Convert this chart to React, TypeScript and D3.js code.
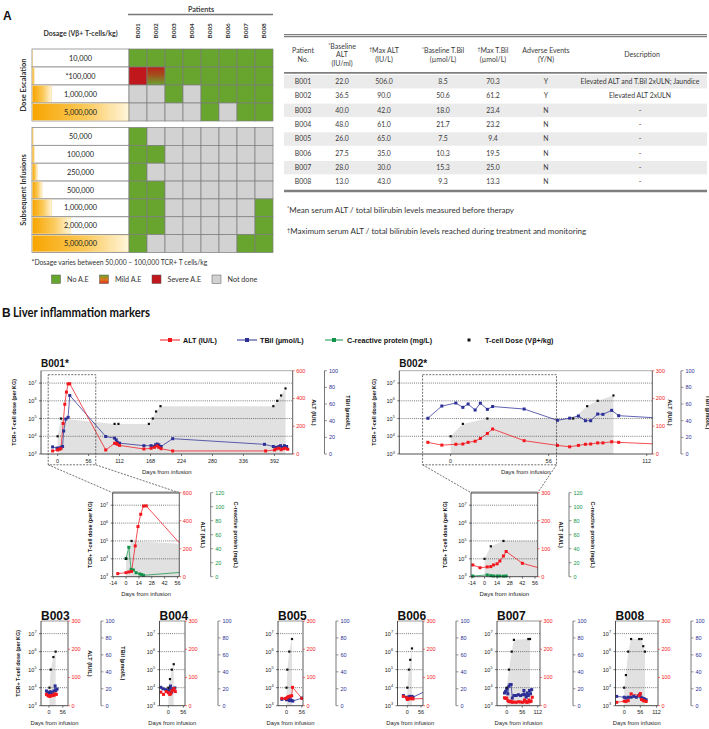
import React from "react";
import * as d3 from "d3";

type Pt = [number, number];

const FONT = "'Liberation Sans', Arial, Helvetica, sans-serif";
const FONT_A = "Lato, 'Open Sans', 'Liberation Sans', sans-serif";
const RED = "#f2161d";
const BLUE = "#2c2f96";
const GREEN = "#13934a";
const AE_GREEN = "#67a52f";
const AE_RED = "#c0171c";
const AE_GRAY = "#d2d2d2";

// ---------------- Panel A data ----------------
const patients = ["B001", "B002", "B003", "B004", "B005", "B006", "B007", "B008"];
const escalationLabels = ["10,000", "*100,000", "1,000,000", "5,000,000"];
const escalationDoses = [10000, 100000, 1000000, 5000000];
// N = no A.E, M = mild, S = severe, X = not done
const escalationStatus = ["NNNNNNNN", "SMNNNNNN", "XXNXNNNN", "XXXXNXNN"];
const subsequentLabels = ["50,000", "100,000", "250,000", "500,000", "1,000,000", "2,000,000", "5,000,000"];
const subsequentDoses = [50000, 100000, 250000, 500000, 1000000, 2000000, 5000000];
const subsequentStatus = ["NXXXXXXX", "NNXXXXXX", "NXXXXXXX", "NNXXXXXX", "NNXXXXXN", "NNXXXXXN", "NXXXXXNN"];
const aeLegendCodes = ["N", "M", "S", "X"];
const aeLegendLabels = ["No A.E", "Mild A.E", "Severe A.E", "Not done"];

// ---------------- Table data ----------------
const tableHeaders = [
  ["Patient", "No."],
  ["*Baseline", "ALT", "(IU/ml)"],
  ["†Max ALT", "(IU/L)"],
  ["*Baseline T.Bil", "(µmol/L)"],
  ["†Max T.Bil", "(µmol/L)"],
  ["Adverse Events", "(Y/N)"],
  ["Description"],
];
const baselineALT = ["22.0", "36.5", "40.0", "48.0", "26.0", "27.5", "28.0", "13.0"];
const maxALT = ["506.0", "90.0", "42.0", "61.0", "65.0", "35.0", "30.0", "43.0"];
const baselineTBil = ["8.5", "50.6", "18.0", "21.7", "7.5", "10.3", "15.3", "9.3"];
const maxTBil = ["70.3", "61.2", "23.4", "23.2", "9.4", "19.5", "25.0", "13.3"];
const adverseEvents = ["Y", "Y", "N", "N", "N", "N", "N", "N"];
const descriptions = ["Elevated ALT and T.Bil 2xULN; Jaundice", "Elevated ALT 2xULN", "-", "-", "-", "-", "-", "-"];
const tableNotes = [
  "*Mean serum ALT / total bilirubin levels measured before therapy",
  "†Maximum serum ALT / total bilirubin levels reached during treatment and monitoring",
];

// ---------------- Panel B data: [day, value] ----------------
const b001Dose: Pt[] = [[0, 1e4], [6, 1e5], [103, 5e4], [110, 5e4], [165, 5e4], [172, 1e5], [178, 2.5e5], [186, 5e5], [390, 5e5], [397, 1e6], [404, 2e6], [412, 5e6]];
const b001ALT: Pt[] = [[-9, 22], [0, 29], [3, 34], [6, 38], [10, 220], [13, 358], [16, 446], [19, 505], [22, 506], [87, 29], [103, 77], [106, 77], [108, 70], [112, 62], [156, 36], [169, 41], [175, 48], [180, 58], [183, 48], [187, 38], [208, 22], [376, 22], [392, 29], [395, 36], [400, 41], [404, 31], [408, 38], [412, 41], [416, 34]];
const b001TBil: Pt[] = [[-9, 8.5], [-1, 7], [2, 7], [6, 8], [9, 9], [11, 27.6], [15, 42], [19, 44], [22, 70.3], [87, 21], [103, 19], [106, 17], [108, 14], [112, 13], [156, 10], [169, 10], [174, 9], [177, 11], [180, 12], [183, 11], [187, 9], [208, 18.4], [374, 11.6], [390, 9], [395, 8], [400, 9], [403, 10], [406, 8], [410, 10], [414, 9]];
const b001CRP: Pt[] = [[0, 26], [3, 42], [5.5, 10.5], [8, 9.6], [11, 5.7], [15, 3.9], [17, 2.9], [19, 2], [87, 9]];

const b002Dose: Pt[] = [[0, 1e4], [7, 5e4], [21, 1e5], [70, 1e5], [78, 5e5], [84, 1e6], [93, 2e6]];
const b002ALT: Pt[] = [[-13, 42], [-5, 32], [3, 35], [7, 36], [10, 42], [14, 46], [17, 56], [21, 74], [24, 90], [42, 48], [61, 31], [68, 26], [73, 31], [77, 35], [80, 36], [84, 40], [87, 40], [92, 44], [96, 42], [125, 34]];
const b002TBil: Pt[] = [[-13, 42.9], [-5, 57.6], [3, 61.2], [7, 56], [10, 60], [14, 52.8], [17, 61], [21, 53.6], [24, 57], [42, 54], [61, 40.4], [68, 43], [73, 45.6], [77, 40], [80, 40], [84, 48], [87, 47.6], [92, 52.4], [96, 46], [125, 42.5]];
const b002CRP: Pt[] = [[-13, 1], [3, 2.5], [7, 1.5], [10, 1], [14, 1], [17, 1], [21, 0.8], [24, 1]];

const b003Dose: Pt[] = [[2, 1e4], [7, 1e5], [18, 5e5], [27, 1e6]];
const b003ALT: Pt[] = [[-10, 40], [-4, 36], [0, 34], [4, 33], [8, 35], [12, 36], [17, 38], [21, 37], [25, 42], [30, 40]];
const b003TBil: Pt[] = [[-10, 17.4], [-5, 15.7], [0, 13.8], [5, 16.5], [10, 15.7], [15, 13], [20, 17.4], [25, 23.4], [28, 18], [33, 19.7]];

const b004Dose: Pt[] = [[0, 1e4], [6, 3e4], [13, 1e5], [20, 2e5]];
const b004ALT: Pt[] = [[-28, 48], [-18, 40], [-8, 50], [0, 46], [5, 40], [9, 42], [13, 52], [17, 55], [21, 61], [26, 50]];
const b004TBil: Pt[] = [[-28, 21.7], [-20, 20], [-10, 19], [0, 18], [4, 20], [8, 23.2], [12, 16], [16, 20], [20, 19], [24, 21]];

const b005Dose: Pt[] = [[0, 1e4], [3, 1e5], [10, 1e6], [20, 5e6]];
const b005ALT: Pt[] = [[-17, 26], [-4, 25], [0, 27], [4, 30], [8, 32], [11, 33], [15, 34], [19, 35], [22, 65], [56, 26]];
const b005TBil: Pt[] = [[-17, 7.5], [-4, 8.5], [0, 7], [4, 9.4], [8, 8], [11, 6], [15, 7], [19, 6], [23, 5.5], [56, 9]];

const b006Dose: Pt[] = [[0, 1e4], [6, 1e5], [12, 3.5e5], [19, 1.5e6]];
const b006ALT: Pt[] = [[-16, 33], [-3, 28], [0, 22], [5, 24], [10, 26], [14, 25], [19, 27], [23, 24], [90, 26]];
const b006TBil: Pt[] = [[-16, 12], [-3, 10], [0, 9], [5, 10], [10, 11], [14, 10], [19, 11], [23, 10], [90, 19.5]];

const b007Dose: Pt[] = [[0, 1e4], [8, 1e5], [18, 1e6], [26, 4.5e6], [78, 5e6], [84, 5e6]];
const b007ALT: Pt[] = [[-8, 28], [-4, 26], [0, 27], [4, 18], [8, 15], [12, 14], [16, 16], [20, 12], [26, 13], [34, 12], [42, 14], [50, 13], [58, 12], [64, 20], [68, 15], [72, 12], [76, 13], [80, 20], [84, 14], [88, 16], [92, 30]];
const b007TBil: Pt[] = [[-8, 15], [-4, 17], [0, 20], [4, 14], [8, 23], [12, 25], [16, 25], [20, 9], [26, 12], [34, 12], [42, 13], [50, 12], [58, 13], [62, 18], [66, 13], [70, 10], [74, 15], [78, 12], [82, 18], [86, 14], [90, 19]];

const b008Dose: Pt[] = [[0, 1e4], [6, 5e4], [14, 1e6], [24, 5e6], [52, 5e6], [60, 5e6], [66, 2e6], [72, 1e6]];
const b008ALT: Pt[] = [[-26, 12], [0, 16], [6, 15], [14, 18], [24, 42], [52, 36], [56, 43], [60, 22], [66, 18], [70, 17], [76, 15]];
const b008TBil: Pt[] = [[-26, 11], [0, 10], [6, 9], [14, 10], [24, 10], [33, 11], [42, 10], [50, 11.5], [54, 13.3], [58, 10], [62, 9], [66, 8.5], [70, 8], [76, 7]];

const Y_DOMAIN: [number, number] = [1e3, 5e7];
const DECADES = [1e3, 1e4, 1e5, 1e6, 1e7];
const TBIL_TICKS = [0, 20, 40, 60, 80, 100];
const CRP_TICKS = [0, 20, 40, 60, 80, 100, 120];

interface PlotProps {
  id: string;
  left: number; top: number; width: number; height: number;
  xDomain: [number, number]; xTicks: number[];
  altMax: number; altTicks: number[];
  thirdKind: "tbil" | "crp"; thirdX: number;
  dose: Pt[]; alt: Pt[]; third: Pt[];
  title?: string; titleSize?: number; titleY?: number;
  leftLabelX?: number; altLabelX?: number; thirdLabelX?: number;
  xLabelY: number; xLabelSize?: number;
  topStroke?: number;
}

function LogLabel({ x, y, v }: { x: number; y: number; v: number }) {
  const e = Math.round(Math.log10(v));
  return (
    <text x={x} y={y} textAnchor="end" fontSize={5.5} fill="#222">
      10<tspan fontSize={3.8} dy={-2.4}>{e}</tspan>
    </text>
  );
}

function Plot(p: PlotProps) {
  const { left, top, width, height } = p;
  const right = left + width, bottom = top + height;
  const x = d3.scaleLinear().domain(p.xDomain).range([left, right]);
  const y = d3.scaleLog().domain(Y_DOMAIN).range([bottom, top]);
  const yA = d3.scaleLinear().domain([0, p.altMax]).range([bottom, top]);
  const thirdMax = p.thirdKind === "tbil" ? 100 : 120;
  const thirdTicks = p.thirdKind === "tbil" ? TBIL_TICKS : CRP_TICKS;
  const y3 = d3.scaleLinear().domain([0, thirdMax]).range([bottom, top]);
  const area = d3.area<Pt>().x(d => x(d[0])).y0(bottom).y1(d => y(d[1]))(p.dose) || "";
  const lA = d3.line<Pt>().x(d => x(d[0])).y(d => yA(d[1]))(p.alt) || "";
  const l3 = d3.line<Pt>().x(d => x(d[0])).y(d => y3(d[1]))(p.third) || "";
  const c3 = p.thirdKind === "tbil" ? BLUE : GREEN;
  const cid = "clip-" + p.id;
  const ms = 3;
  const midY = (top + bottom) / 2;
  return (
    <g>
      <defs>
        <clipPath id={cid}>
          <rect x={left} y={top - 3} width={width} height={height + 6} />
        </clipPath>
        <clipPath id={cid + "a"}>
          <rect x={left} y={top} width={width} height={height} />
        </clipPath>
      </defs>
      <path d={area} fill="#e1e1e1" clipPath={`url(#${cid}a)`} />
      {[1e4, 1e5, 1e6, 1e7].map(v => (
        <line key={v} x1={left} x2={right} y1={y(v)} y2={y(v)} stroke="#222" strokeWidth={0.6} strokeDasharray="1,1.1" />
      ))}
      <g clipPath={`url(#${cid})`}>
        <path d={l3} fill="none" stroke={c3} strokeWidth={0.75} />
        <path d={lA} fill="none" stroke={RED} strokeWidth={0.75} />
        {p.third.map((d, i) => (
          <rect key={"t" + i} x={x(d[0]) - ms / 2} y={y3(d[1]) - ms / 2} width={ms} height={ms} fill={c3} />
        ))}
        {p.alt.map((d, i) => (
          <rect key={"a" + i} x={x(d[0]) - ms / 2} y={yA(d[1]) - ms / 2} width={ms} height={ms} fill={RED} />
        ))}
        {p.dose.map((d, i) => (
          <rect key={"d" + i} x={x(d[0]) - 1.1} y={y(d[1]) - 1.1} width={2.2} height={2.2} fill="#111" />
        ))}
      </g>
      <line x1={left} x2={right} y1={top} y2={top} stroke="#8a8a8a" strokeWidth={p.topStroke ?? 0.7} />
      <line x1={left} x2={left} y1={top} y2={bottom} stroke="#222" strokeWidth={0.8} />
      <line x1={left} x2={right} y1={bottom} y2={bottom} stroke="#222" strokeWidth={0.8} />
      <line x1={right} x2={right} y1={top} y2={bottom} stroke="#333" strokeWidth={0.8} />
      {DECADES.map(v => (
        <g key={v}>
          <line x1={left - 2} x2={left} y1={y(v)} y2={y(v)} stroke="#222" strokeWidth={0.6} />
          <LogLabel x={left - 4.5} y={y(v) + 2} v={v} />
        </g>
      ))}
      {p.xTicks.map(t => (
        <g key={t}>
          <line x1={x(t)} x2={x(t)} y1={bottom} y2={bottom + 2} stroke="#222" strokeWidth={0.6} />
          <text x={x(t)} y={bottom + 8.5} textAnchor="middle" fontSize={5.5} fill="#222">{t}</text>
        </g>
      ))}
      {p.altTicks.map(t => (
        <g key={t}>
          <line x1={right} x2={right + 2} y1={yA(t)} y2={yA(t)} stroke={RED} strokeWidth={0.6} />
          <text x={right + 3.5} y={yA(t) + 2} fontSize={5.5} fill={RED}>{t}</text>
        </g>
      ))}
      <line x1={p.thirdX} x2={p.thirdX} y1={top} y2={bottom} stroke="#555" strokeWidth={0.8} />
      {thirdTicks.map(t => (
        <g key={t}>
          <line x1={p.thirdX} x2={p.thirdX + 2.5} y1={y3(t)} y2={y3(t)} stroke="#555" strokeWidth={0.6} />
          <text x={p.thirdX + 4.5} y={y3(t) + 2} fontSize={5.5} fill={c3}>{t}</text>
        </g>
      ))}
      {p.title && (
        <text x={left} y={p.titleY ?? top - 3.5} fontSize={p.titleSize ?? 10} fontWeight="bold" fill="#111">{p.title}</text>
      )}
      {p.leftLabelX !== undefined && (
        <text transform={`translate(${p.leftLabelX},${midY}) rotate(-90)`} textAnchor="middle" fontSize={5.4} fontWeight="bold" fill="#111">
          TCR+ T-cell dose (per KG)
        </text>
      )}
      {p.altLabelX !== undefined && (
        <text transform={`translate(${p.altLabelX},${midY}) rotate(90)`} textAnchor="middle" fontSize={5.6} fontWeight="bold" fill="#111">
          ALT (IU/L)
        </text>
      )}
      {p.thirdLabelX !== undefined && (
        <text transform={`translate(${p.thirdLabelX},${midY}) rotate(90)`} textAnchor="middle" fontSize={5.6} fontWeight="bold" fill="#111">
          {p.thirdKind === "tbil" ? "TBil (µmol/L)" : "C-reactive protein (mg/L)"}
        </text>
      )}
      <text x={(left + right) / 2} y={p.xLabelY} textAnchor="middle" fontSize={p.xLabelSize ?? 6} fill="#222">
        Days from infusion
      </text>
    </g>
  );
}

function aeFill(s: string) {
  if (s === "N") return AE_GREEN;
  if (s === "S") return AE_RED;
  if (s === "M") return "url(#mildGrad)";
  return AE_GRAY;
}

function PanelA() {
  const col = d3.scaleBand<string>().domain(patients).range([129, 273]);
  const rowE = d3.scaleBand<string>().domain(escalationLabels).range([49, 121]);
  const rowS = d3.scaleBand<string>().domain(subsequentLabels).range([127.5, 252.5]);
  const bar = d3.scaleLinear().domain([0, 5e6]).range([0, 96]);
  const block = (labels: string[], doses: number[], status: string[], row: d3.ScaleBand<string>) =>
    labels.map((lab, i) => {
      const y0 = row(lab)!;
      const h = row.bandwidth();
      return (
        <g key={lab}>
          <rect x={32} y={y0} width={97} height={h} fill="#fff" stroke="#8a8a8a" strokeWidth={0.8} />
          <rect x={32.5} y={y0 + 0.8} width={bar(doses[i])} height={h - 1.6} fill="url(#orangeGrad)" stroke="#f6cf80" strokeWidth={0.4} />
          <text x={80.5} y={y0 + h / 2 + 2.6} textAnchor="middle" fontSize={7.3} fill="#222" fontFamily={FONT_A}>{lab}</text>
          {patients.map((p, j) => (
            <rect key={p} x={col(p)} y={y0} width={col.bandwidth()} height={h} fill={aeFill(status[i][j])} stroke="#7d7d7d" strokeWidth={0.7} />
          ))}
        </g>
      );
    });
  return (
    <g fontFamily={FONT_A}>
      <defs>
        <linearGradient id="orangeGrad" x1="0" x2="1" y1="0" y2="0">
          <stop offset="0" stopColor="#f7a500" />
          <stop offset="0.55" stopColor="#fbc95a" />
          <stop offset="1" stopColor="#fff6dc" />
        </linearGradient>
        <linearGradient id="mildGrad" x1="0" x2="0" y1="0" y2="1">
          <stop offset="0" stopColor="#b8221b" />
          <stop offset="0.45" stopColor="#a4501e" />
          <stop offset="1" stopColor="#67a52f" />
        </linearGradient>
        <linearGradient id="mildLegend" x1="0" x2="0" y1="0" y2="1">
          <stop offset="0" stopColor="#67a52f" />
          <stop offset="0.55" stopColor="#e0761e" />
          <stop offset="1" stopColor="#d8301c" />
        </linearGradient>
      </defs>
      <text x={3} y={19.5} fontSize={12} fontWeight="bold" fill="#111" fontFamily={FONT}>A</text>
      <text x={201} y={11.5} textAnchor="middle" fontSize={7.2} fontWeight="bold" fill="#444">Patients</text>
      <line x1={128} x2={273} y1={14.5} y2={14.5} stroke="#777" strokeWidth={1.3} />
      {patients.map(p => (
        <text key={p} transform={`translate(${col(p)! + col.bandwidth() / 2 + 2.3},38.5) rotate(-90)`} fontSize={6.4} fontWeight="bold" fill="#333">{p}</text>
      ))}
      <text x={80.5} y={36} textAnchor="middle" fontSize={7} fontWeight="bold" fill="#333">Dosage (Vβ+ T-cells/kg)</text>
      {block(escalationLabels, escalationDoses, escalationStatus, rowE)}
      {block(subsequentLabels, subsequentDoses, subsequentStatus, rowS)}
      <text transform="translate(25.5,85) rotate(-90)" textAnchor="middle" fontSize={7.5} fontWeight="bold" fill="#333">Dose Escalation</text>
      <text transform="translate(25.5,190) rotate(-90)" textAnchor="middle" fontSize={7.5} fontWeight="bold" fill="#333">Subsequent Infusions</text>
      <text x={31.5} y={265} fontSize={6.8} fill="#333">*Dosage varies between 50,000 – 100,000 TCR+ T cells/kg</text>
      {aeLegendCodes.map((c, i) => {
        const xs = [51.5, 99.5, 152, 212][i];
        return (
          <g key={c}>
            <rect x={xs} y={275} width={9} height={8.5} fill={c === "M" ? "url(#mildLegend)" : aeFill(c)} stroke="#555" strokeWidth={0.5} />
            <text x={xs + 15.5} y={282} fontSize={7.2} fill="#333">{aeLegendLabels[i]}</text>
          </g>
        );
      })}
    </g>
  );
}

function MarkedText({ x, y, text, size }: { x: number; y: number; text: string; size: number }) {
  const first = text[0];
  if (first === "*" || first === "†") {
    return (
      <text x={x} y={y} textAnchor="middle" fontSize={size} fill="#3a3a3a">
        <tspan fontSize={size * 0.7} dy={-2}>{first}</tspan>
        <tspan dy={2}>{text.slice(1)}</tspan>
      </text>
    );
  }
  return <text x={x} y={y} textAnchor="middle" fontSize={size} fill="#3a3a3a">{text}</text>;
}

function Table() {
  const colX = [303, 342, 384, 443, 493, 546, 640];
  const rowY = d3.scaleLinear().domain([0, 7]).range([81.7, 182]);
  const cols = [patients, baselineALT, maxALT, baselineTBil, maxTBil, adverseEvents, descriptions];
  return (
    <g fontFamily={FONT_A}>
      <line x1={284} x2={707} y1={34.6} y2={34.6} stroke="#7f7f7f" strokeWidth={1.3} />
      <line x1={284} x2={707} y1={36.6} y2={36.6} stroke="#7f7f7f" strokeWidth={1.1} />
      {tableHeaders.map((lines, c) => {
        const n = lines.length;
        return lines.map((t, k) => (
          <MarkedText key={c + "-" + k} x={colX[c] + (c === 6 ? 2 : 0)} y={55 + (k - (n - 1) / 2) * 8.6 + 2.4} text={t} size={7} />
        ));
      })}
      {patients.map((p, i) =>
        i % 2 === 0 ? <rect key={p} x={284} y={rowY(i) - 6.7} width={423} height={13.4} fill="#ebebeb" /> : null
      )}
      <line x1={284} x2={707} y1={72.8} y2={72.8} stroke="#7f7f7f" strokeWidth={1.8} />
      {cols.map((vals, c) =>
        vals.map((v, i) => (
          <text key={c + "-" + i} x={colX[c]} y={rowY(i) + 2.4} textAnchor="middle" fontSize={6.9} fill="#3a3a3a">{v}</text>
        ))
      )}
      <line x1={284} x2={707} y1={191} y2={191} stroke="#7f7f7f" strokeWidth={2.4} />
      {tableNotes.map((t, i) => (
        <text key={i} x={287} y={[212.5, 234][i]} fontSize={8} fill="#333">
          <tspan fontSize={5.5} dy={-2.2}>{t[0]}</tspan>
          <tspan dy={2.2}>{t.slice(1)}</tspan>
        </text>
      ))}
    </g>
  );
}

function PanelBHeader() {
  const items = [
    { x0: 160, x1: 180, color: RED, label: "ALT (IU/L)", tx: 183 },
    { x0: 237, x1: 257, color: BLUE, label: "TBil (µmol/L)", tx: 260 },
    { x0: 325, x1: 343, color: GREEN, label: "C-reactive protein (mg/L)", tx: 347 },
  ];
  return (
    <g>
      <text x={2} y={317} fontSize={12} fontWeight="bold" fill="#111" fontFamily={FONT}>B</text>
      <text x={13} y={317} fontSize={13} fontWeight="bold" fill="#111" fontFamily={FONT_A} textLength={137} lengthAdjust="spacingAndGlyphs">Liver inflammation markers</text>
      {items.map(it => (
        <g key={it.label}>
          <line x1={it.x0} x2={it.x1} y1={340} y2={340} stroke={it.color} strokeWidth={1} />
          <rect x={(it.x0 + it.x1) / 2 - 2} y={338} width={4} height={4} fill={it.color} />
          <text x={it.tx} y={342.6} fontSize={7.2} fontWeight="bold" fill="#111">{it.label}</text>
        </g>
      ))}
      <rect x={467.5} y={338.5} width={3} height={3} fill="#111" />
      <text x={485} y={342.6} fontSize={7.2} fontWeight="bold" fill="#111">T-cell Dose (Vβ+/kg)</text>
    </g>
  );
}

const LB001 = { left: 41, top: 370.7, width: 251.7, height: 83.3, xDomain: [-30, 425] as [number, number] };
const LB002 = { left: 399.3, top: 370.7, width: 253, height: 83.3, xDomain: [-29.3, 115.2] as [number, number] };
const LB001i = { left: 112.7, top: 492.7, width: 66.6, height: 84, xDomain: [-14.5, 58] as [number, number] };
const LB002i = { left: 471, top: 492.7, width: 66.7, height: 84, xDomain: [-15, 59] as [number, number] };
const zoomWindowB001: [number, number] = [-17, 69];
const zoomWindowB002: [number, number] = [-16, 60.5];

function ZoomLink({ main, inset, win }: { main: typeof LB001; inset: typeof LB001; win: [number, number] }) {
  const x = d3.scaleLinear().domain(main.xDomain).range([main.left, main.left + main.width]);
  const x0 = x(win[0]), x1 = x(win[1]);
  const y0 = main.top + 4, y1 = main.top + main.height + 10.8;
  const st = { stroke: "#333", strokeWidth: 0.7, strokeDasharray: "2,1.3", fill: "none" };
  return (
    <g>
      <rect x={x0} y={y0} width={x1 - x0} height={y1 - y0} {...st} />
      <line x1={x0} y1={y1} x2={inset.left} y2={inset.top} {...st} />
      <line x1={x1} y1={y1} x2={inset.left + inset.width} y2={inset.top} {...st} />
    </g>
  );
}

const SMALL_TOP = 621;
const SMALL_H = 84.7;

export default function App() {
  const small = [
    { id: "b003", title: "B003", left: 41, width: 27, xDomain: [-32, 77] as [number, number], xTicks: [0, 56], dose: b003Dose, alt: b003ALT, tb: b003TBil, labels: true },
    { id: "b004", title: "B004", left: 159.5, width: 25.5, xDomain: [-33, 62] as [number, number], xTicks: [0, 56], dose: b004Dose, alt: b004ALT, tb: b004TBil, labels: false },
    { id: "b005", title: "B005", left: 278, width: 25, xDomain: [-31, 60] as [number, number], xTicks: [0, 56], dose: b005Dose, alt: b005ALT, tb: b005TBil, labels: false },
    { id: "b006", title: "B006", left: 397.5, width: 25.5, xDomain: [-40, 64] as [number, number], xTicks: [0, 56], dose: b006Dose, alt: b006ALT, tb: b006TBil, labels: false },
    { id: "b007", title: "B007", left: 497, width: 43, xDomain: [-35, 120] as [number, number], xTicks: [0, 56, 112], dose: b007Dose, alt: b007ALT, tb: b007TBil, labels: false },
    { id: "b008", title: "B008", left: 615.5, width: 42.5, xDomain: [-30, 117] as [number, number], xTicks: [0, 56, 112], dose: b008Dose, alt: b008ALT, tb: b008TBil, labels: false },
  ];
  return (
    <svg width={709} height={729} viewBox="0 0 709 729" style={{ position: "absolute", left: 0, top: 0, background: "#fff" }} fontFamily={FONT}>
      <rect x={0} y={0} width={709} height={729} fill="#fff" />
      <PanelA />
      <Table />
      <PanelBHeader />
      <Plot id="b001" {...LB001} xTicks={[0, 56, 112, 168, 224, 280, 336, 392]} altMax={600} altTicks={[0, 200, 400, 600]}
        thirdKind="tbil" thirdX={324.5} dose={b001Dose} alt={b001ALT} third={b001TBil}
        title="B001*" titleSize={10} leftLabelX={15.5} altLabelX={312} thirdLabelX={346} xLabelY={473.5} />
      <Plot id="b002" {...LB002} xTicks={[0, 56, 112]} altMax={300} altTicks={[0, 100, 200, 300]}
        thirdKind="tbil" thirdX={681} dose={b002Dose} alt={b002ALT} third={b002TBil}
        title="B002*" titleSize={10} leftLabelX={375.5} altLabelX={668} thirdLabelX={705.5} xLabelY={473.5} />
      <ZoomLink main={LB001} inset={LB001i} win={zoomWindowB001} />
      <ZoomLink main={LB002} inset={LB002i} win={zoomWindowB002} />
      <Plot id="b001i" {...LB001i} xTicks={[-14, 0, 14, 28, 42, 56]} altMax={600} altTicks={[0, 200, 400, 600]}
        thirdKind="crp" thirdX={210.7} dose={b001Dose} alt={b001ALT} third={b001CRP}
        leftLabelX={92} altLabelX={200.5} thirdLabelX={233.5} xLabelY={595.5} topStroke={2.3} />
      <Plot id="b002i" {...LB002i} xTicks={[-14, 0, 14, 28, 42, 56]} altMax={300} altTicks={[0, 100, 200, 300]}
        thirdKind="crp" thirdX={569} dose={b002Dose} alt={b002ALT} third={b002CRP}
        leftLabelX={447} altLabelX={558.5} thirdLabelX={590.5} xLabelY={595.5} topStroke={2.3} />
      {small.map(s => (
        <Plot key={s.id} id={s.id} left={s.left} top={SMALL_TOP} width={s.width} height={SMALL_H} xDomain={s.xDomain} xTicks={s.xTicks}
          altMax={300} altTicks={[0, 100, 200, 300]} thirdKind="tbil" thirdX={s.left + s.width + 33}
          dose={s.dose} alt={s.alt} third={s.tb} title={s.title} titleSize={12} titleY={619.6}
          leftLabelX={s.labels ? 19.5 : undefined} altLabelX={s.labels ? 87.5 : undefined} thirdLabelX={s.labels ? 120.5 : undefined}
          xLabelY={725} xLabelSize={5.8} topStroke={0.9} />
      ))}
    </svg>
  );
}
